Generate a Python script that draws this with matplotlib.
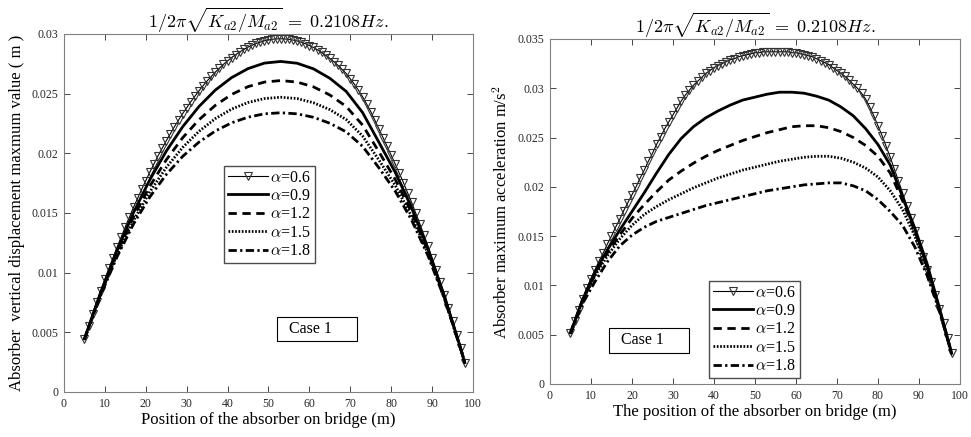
import numpy as np
import matplotlib.pyplot as plt
from matplotlib.patches import Rectangle

plt.rcParams['font.family'] = ['Liberation Serif', 'DejaVu Serif']
plt.rcParams['mathtext.fontset'] = 'cm'

# positions along the bridge (m)
x_fine = list(range(5, 99))
x_disp = [5, 9, 13, 17, 21, 25, 29, 33, 37, 41, 45, 49, 53, 57, 61, 65, 69, 73, 77, 81,
          85, 89, 93, 97, 98]
x_acc = [5, 8, 11, 14, 17, 20, 23, 26, 29, 32, 35, 38, 41, 44, 47, 50, 53, 56, 59, 62,
         65, 68, 71, 74, 77, 80, 83, 86, 89, 92, 95, 98]

alphas = ['0.6', '0.9', '1.2', '1.5', '1.8']

# absorber vertical displacement max (m)
disp_06 = [0.00448, 0.00550, 0.00652, 0.00751, 0.00849, 0.00943, 0.01036, 0.01126, 0.01215,
           0.01300, 0.01385, 0.01466, 0.01547, 0.01623, 0.01699, 0.01771, 0.01843, 0.01911,
           0.01979, 0.02042, 0.02105, 0.02164, 0.02223, 0.02278, 0.02332, 0.02382, 0.02432,
           0.02478, 0.02524, 0.02566, 0.02607, 0.02644, 0.02681, 0.02714, 0.02746, 0.02775,
           0.02803, 0.02827, 0.02851, 0.02871, 0.02890, 0.02906, 0.02921, 0.02932, 0.02943,
           0.02950, 0.02956, 0.02959, 0.02960, 0.02958, 0.02955, 0.02949, 0.02942, 0.02931,
           0.02919, 0.02903, 0.02887, 0.02867, 0.02846, 0.02821, 0.02796, 0.02767, 0.02737,
           0.02703, 0.02669, 0.02625, 0.02580, 0.02528, 0.02475, 0.02413, 0.02350, 0.02278,
           0.02205, 0.02132, 0.02058, 0.01984, 0.01909, 0.01832, 0.01754, 0.01671, 0.01588,
           0.01500, 0.01411, 0.01317, 0.01223, 0.01124, 0.01025, 0.00921, 0.00816, 0.00706,
           0.00596, 0.00481, 0.00366, 0.00247]
disp_09 = [0.00446, 0.00838, 0.01190, 0.01504, 0.01779, 0.02018, 0.02222, 0.02392, 0.02530,
           0.02635, 0.02710, 0.02756, 0.02770, 0.02755, 0.02708, 0.02629, 0.02519, 0.02342,
           0.02093, 0.01840, 0.01543, 0.01198, 0.00806, 0.00364, 0.00246]
disp_12 = [0.00443, 0.00829, 0.01170, 0.01468, 0.01725, 0.01945, 0.02130, 0.02281, 0.02402,
           0.02494, 0.02559, 0.02597, 0.02610, 0.02597, 0.02557, 0.02489, 0.02393, 0.02237,
           0.02013, 0.01781, 0.01504, 0.01177, 0.00798, 0.00363, 0.00246]
disp_15 = [0.00442, 0.00821, 0.01152, 0.01437, 0.01678, 0.01881, 0.02049, 0.02184, 0.02291,
           0.02371, 0.02426, 0.02459, 0.02470, 0.02459, 0.02424, 0.02366, 0.02283, 0.02145,
           0.01944, 0.01731, 0.01471, 0.01159, 0.00791, 0.00362, 0.00245]
disp_18 = [0.00440, 0.00814, 0.01135, 0.01408, 0.01635, 0.01822, 0.01974, 0.02094, 0.02187,
           0.02256, 0.02303, 0.02331, 0.02340, 0.02331, 0.02302, 0.02252, 0.02180, 0.02059,
           0.01879, 0.01683, 0.01440, 0.01142, 0.00784, 0.00361, 0.00245]

# absorber maximum acceleration (m/s^2)
acc_06 = [0.0052, 0.0064, 0.0075, 0.0086, 0.0097, 0.0107, 0.0116, 0.0125, 0.0133, 0.0142,
          0.0150, 0.0159, 0.0167, 0.0176, 0.0184, 0.0192, 0.0200, 0.0209, 0.0217, 0.0226,
          0.0234, 0.0243, 0.0251, 0.0259, 0.0266, 0.0273, 0.0280, 0.0287, 0.0293, 0.0298,
          0.0303, 0.0307, 0.0311, 0.0315, 0.0318, 0.0321, 0.0323, 0.0325, 0.0327, 0.0329,
          0.0330, 0.0332, 0.0333, 0.0334, 0.0335, 0.0336, 0.0336, 0.0337, 0.0337, 0.0337,
          0.0337, 0.0337, 0.0337, 0.0337, 0.0336, 0.0336, 0.0335, 0.0334, 0.0333, 0.0332,
          0.0330, 0.0328, 0.0326, 0.0324, 0.0321, 0.0318, 0.0315, 0.0312, 0.0308, 0.0304,
          0.0300, 0.0295, 0.0289, 0.0281, 0.0272, 0.0262, 0.0252, 0.0241, 0.0230, 0.0218,
          0.0206, 0.0194, 0.0181, 0.0168, 0.0155, 0.0142, 0.0129, 0.0116, 0.0103, 0.0090,
          0.0076, 0.0062, 0.0047, 0.0031]
acc_09 = [0.0052, 0.0086, 0.0114, 0.0136, 0.0156, 0.0175, 0.0194, 0.0214, 0.0233, 0.0249,
          0.0261, 0.0270, 0.0277, 0.0283, 0.0288, 0.0291, 0.0294, 0.0296, 0.0296, 0.0295,
          0.0292, 0.0288, 0.0281, 0.0272, 0.0259, 0.0243, 0.0222, 0.0190, 0.0158, 0.0122,
          0.0077, 0.0031]
acc_12 = [0.0052, 0.0086, 0.0112, 0.0133, 0.0151, 0.0168, 0.0182, 0.0195, 0.0207, 0.0216,
          0.0224, 0.0231, 0.0237, 0.0242, 0.0247, 0.0251, 0.0255, 0.0258, 0.0261, 0.0262,
          0.0262, 0.0260, 0.0256, 0.0250, 0.0242, 0.0231, 0.0214, 0.0186, 0.0155, 0.0119,
          0.0076, 0.0031]
acc_15 = [0.0051, 0.0085, 0.0110, 0.0130, 0.0147, 0.0161, 0.0172, 0.0180, 0.0187, 0.0193,
          0.0199, 0.0204, 0.0209, 0.0213, 0.0217, 0.0220, 0.0223, 0.0226, 0.0228, 0.0230,
          0.0231, 0.0231, 0.0229, 0.0225, 0.0219, 0.0210, 0.0196, 0.0177, 0.0150, 0.0116,
          0.0075, 0.0030]
acc_18 = [0.0051, 0.0082, 0.0104, 0.0124, 0.0140, 0.0151, 0.0159, 0.0165, 0.0169, 0.0173,
          0.0177, 0.0181, 0.0184, 0.0187, 0.0190, 0.0193, 0.0196, 0.0198, 0.0200, 0.0202,
          0.0203, 0.0204, 0.0204, 0.0201, 0.0196, 0.0187, 0.0175, 0.0161, 0.0139, 0.0110,
          0.0074, 0.0030]

title = r'$1/2\pi\sqrt{K_{a2}/M_{a2}}\;=\;0.2108Hz.$'
styles = [
    dict(color='k', lw=0.8, marker='v', ms=6, mfc='none', mec='0.2', mew=0.8),
    dict(color='k', lw=2.0, ls='-'),
    dict(color='k', lw=2.0, ls=(0, (3, 2))),
    dict(color='k', lw=2.0, ls=(0, (0.6, 0.6))),
    dict(color='k', lw=2.0, ls=(0, (3, 1.2, 0.8, 1.2))),
]


def style_axes(ax, ymax, ystep):
    ax.set_xlim(0, 100)
    ax.set_ylim(0, ymax)
    ax.set_xticks(np.arange(0, 101, 10))
    ax.set_yticks(np.arange(0, ymax + ystep / 2, ystep))
    ax.set_yticklabels(['0'] + ['%g' % v for v in np.arange(ystep, ymax + ystep / 2, ystep)])
    ax.tick_params(direction='in', top=True, right=True, length=4, width=0.6,
                   labelsize=8.5, colors='0.15', pad=4)
    for s in ax.spines.values():
        s.set_color('0.5')
        s.set_linewidth(0.8)


def case_box(ax, x0, y0, w, h):
    ax.add_patch(Rectangle((x0, y0), w, h, transform=ax.transAxes, fill=False,
                           edgecolor='k', lw=0.8, zorder=5))
    ax.text(x0 + 0.03, y0 + h / 2, 'Case 1', transform=ax.transAxes, fontsize=11.5,
            va='center', ha='left')


fig = plt.figure(figsize=(9.71, 4.37), dpi=100)
ax1 = fig.add_axes([0.0659, 0.1030, 0.4212, 0.8192])
ax2 = fig.add_axes([0.5664, 0.1213, 0.4222, 0.7895])

disp = [disp_06, disp_09, disp_12, disp_15, disp_18]
acc = [acc_06, acc_09, acc_12, acc_15, acc_18]

for i, a in enumerate(alphas):
    xs = x_fine if i == 0 else x_disp
    ax1.plot(xs, disp[i], label=r'$\alpha$=' + a, **styles[i])
    xs = x_fine if i == 0 else x_acc
    ax2.plot(xs, acc[i], label=r'$\alpha$=' + a, **styles[i])

style_axes(ax1, 0.03, 0.005)
style_axes(ax2, 0.035, 0.005)

ax1.set_title(title, fontsize=13, pad=4)
ax2.set_title(title, fontsize=13, pad=4)
ax1.set_xlabel('Position of the absorber on bridge (m)', fontsize=12, labelpad=2)
ax1.set_ylabel('Absorber  vertical displacement maxmum value ( m )', fontsize=12, labelpad=5)
ax2.set_xlabel('The position of the absorber on bridge (m)', fontsize=12, labelpad=2)
ax2.set_ylabel(r'Absorber maximum acceleration m/s$^2$', fontsize=12, labelpad=5)

for ax, loc in [(ax1, (0.391, 0.36)), (ax2, (0.388, 0.017))]:
    leg = ax.legend(loc='lower left', bbox_to_anchor=loc, fontsize=11.5, handlelength=2.5,
                    handletextpad=0.15, borderpad=0.25, labelspacing=0.15, fancybox=False,
                    framealpha=1, borderaxespad=0)
    leg.get_frame().set_edgecolor('0.3')
    leg.get_frame().set_linewidth(1.0)

case_box(ax1, 0.521, 0.142, 0.195, 0.068)
case_box(ax2, 0.144, 0.091, 0.196, 0.072)

fig.savefig('out.png', dpi=100)
